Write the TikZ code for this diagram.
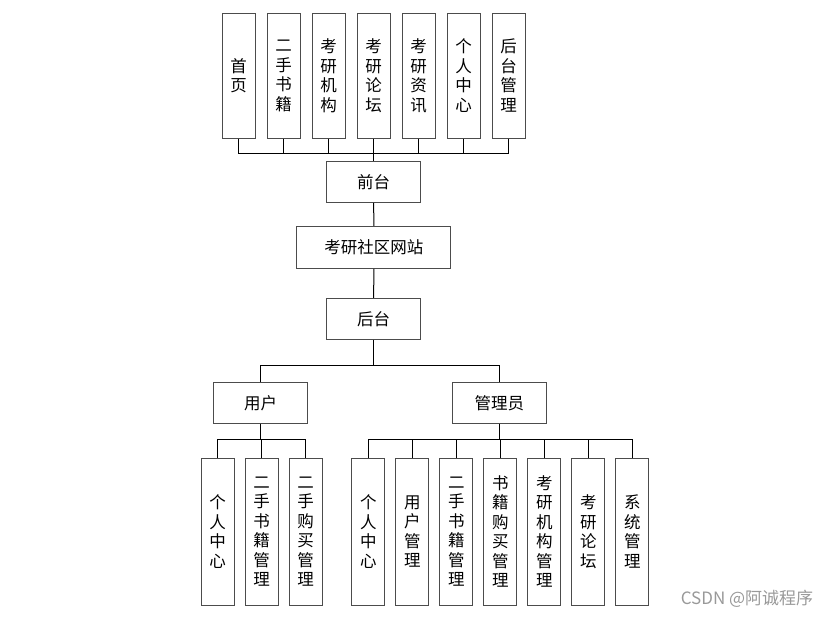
\documentclass[tikz,border=0pt]{standalone}
\usepackage{fontspec}
\setmainfont{Noto Sans CJK SC}
\usetikzlibrary{positioning}

\tikzset{
  box/.style={draw=black!70, line width=1pt, fill=white, inner sep=0pt,
    minimum width=94pt, minimum height=41pt, font=\fontsize{16.5}{18}\selectfont},
  tallbox/.style={box, minimum width=33pt, align=center,
    font=\fontsize{16.5}{19.5}\selectfont},
  link/.style={line width=1pt, black}
}

\begin{document}
\begin{tikzpicture}[x=1pt, y=-1pt]
  \useasboundingbox (0,0) rectangle (831,617);

  % Front-end pages
  \foreach \txt [count=\i] in {{首\\页}, {二\\手\\书\\籍}, {考\\研\\机\\构}, {考\\研\\论\\坛},
                               {考\\研\\资\\讯}, {个\\人\\中\\心}, {后\\台\\管\\理}}
    \node[tallbox, minimum height=125pt] (page\i) at ({193.5+45*\i}, 75.7) {\txt};

  % Main column
  \node[box] (front) at (373.7, 182) {前台};
  \node[box, minimum width=154pt, minimum height=42pt] (site) at (373.8, 247.5) {考研社区网站};
  \node[box] (back) at (373.7, 319) {后台};
  \node[box] (user) at (260.5, 403) {用户};
  \node[box] (admin) at (499.3, 403) {管理员};

  % User functions
  \foreach \txt [count=\i] in {{个\\人\\中\\心}, {二\\手\\书\\籍\\管\\理}, {二\\手\\购\\买\\管\\理}}
    \node[tallbox, minimum height=147pt] (ufun\i) at ({173.7+44*\i}, 531.7) {\txt};

  % Admin functions
  \foreach \txt [count=\i] in {{个\\人\\中\\心}, {用\\户\\管\\理}, {二\\手\\书\\籍\\管\\理},
                               {书\\籍\\购\\买\\管\\理}, {考\\研\\机\\构\\管\\理}, {考\\研\\论\\坛},
                               {系\\统\\管\\理}}
    \node[tallbox, minimum height=147pt] (afun\i) at ({324.3+44*\i}, 531.7) {\txt};

  % Bus points
  \coordinate (frontbus) at (373.7, 153.3);
  \coordinate (backbus) at (373.7, 366);
  \coordinate (userbus) at (260.5, 439.3);
  \coordinate (adminbus) at (499.3, 439.3);

  % Connectors
  \foreach \i in {1,...,7}
    \draw[link] (page\i.south) |- (frontbus);
  \draw[link] (frontbus) -- (front.north);
  \draw[link] (front) -- (site);
  \draw[link] (site) -- (back);
  \draw[link] (back.south) -- (backbus);
  \draw[link] (backbus) -| (user.north);
  \draw[link] (backbus) -| (admin.north);
  \draw[link] (user.south) -- (userbus);
  \foreach \i in {1,2,3}
    \draw[link] (userbus) -| (ufun\i.north);
  \draw[link] (admin.south) -- (adminbus);
  \foreach \i in {1,...,7}
    \draw[link] (adminbus) -| (afun\i.north);

  % Watermark
  \node[text=black!40, font=\fontsize{17}{19}\selectfont] (mark) at (747, 599) {CSDN @阿诚程序};
\end{tikzpicture}
\end{document}
